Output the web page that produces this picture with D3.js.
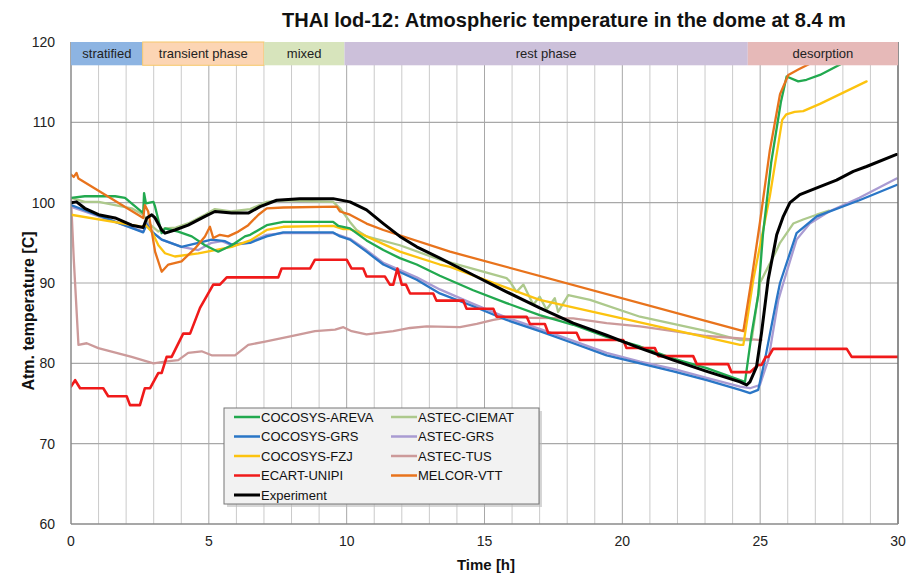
<!DOCTYPE html>
<html><head><meta charset="utf-8">
<script src="https://cdn.jsdelivr.net/npm/d3@7"></script>
<style>body{margin:0;background:#fff;font-family:"Liberation Sans",Arial,sans-serif}</style>
</head><body><svg id="c" width="909" height="577"></svg>
<script>
const xTicks=[0,5,10,15,20,25,30];
const yTicks=[60,70,80,90,100,110,120];
const phaseNames=["stratified","transient phase","mixed","rest phase","desorption"];
const phaseStart=[0,2.6,7,9.92,24.55];
const phaseEnd=[2.6,7,9.92,24.55,30];
const phaseColors=["#8db4e2","#fcd5b4","#d7e4bc","#ccc0da","#e6b9b8"];

const seriesNames=["COCOSYS-AREVA","COCOSYS-GRS","COCOSYS-FZJ","ECART-UNIPI","ASTEC-CIEMAT","ASTEC-GRS","ASTEC-TUS","MELCOR-VTT","Experiment"];
const seriesColors=["#22a94f","#2a76c6","#fcc30f","#f01a1a","#adc98c","#a99bd2","#cc9a9a","#e8731c","#000000"];

const cocosysAreva=[[0,100.6],[0.5,100.8],[1.6,100.8],[1.96,100.6],[2.62,98.7],[2.65,101.2],[2.72,99.9],[2.99,100.1],[3.05,99.5],[3.29,96.2],[3.41,96.8],[3.89,96.4],[4.38,95.8],[4.86,94.7],[5.1,94.3],[5.34,93.9],[5.83,94.7],[6.31,95.8],[6.5,96.0],[7.1,97.2],[7.7,97.6],[9.51,97.6],[9.7,97.1],[10.12,96.8],[10.72,95.3],[11.33,94.1],[11.93,93.1],[12.54,92.3],[13.38,90.9],[14.59,89.1],[15.8,87.5],[17.0,86.0],[18.22,84.8],[19.43,83.3],[20.64,82.1],[21.85,80.6],[23.06,79.4],[24.27,77.9],[24.45,77.7],[24.69,83.7],[24.93,88.5],[25.1,96],[25.4,105],[25.75,112.5],[25.96,115.7],[26.38,115.1],[26.68,115.3],[27.17,115.9],[27.9,117.2],[28.2,118]];
const cocosysGrs=[[0,99.7],[2.62,96.3],[2.75,97.3],[2.93,96.4],[3.29,95.4],[4.01,94.5],[4.62,95.0],[5.1,95.4],[5.59,95.2],[5.83,94.8],[6.5,95.0],[7.1,95.8],[7.7,96.3],[9.51,96.3],[9.76,95.8],[10.12,95.4],[10.72,93.9],[11.33,92.3],[12.54,90.4],[13.38,88.7],[14.59,87.1],[15.8,85.4],[17.0,84.0],[18.22,82.5],[19.43,81.0],[20.64,80.0],[21.85,79.0],[23.06,77.9],[24.27,76.7],[24.63,76.3],[24.93,76.7],[25.17,80.4],[25.6,88],[25.72,90],[26.32,96.2],[27.05,98.3],[28.6,100.3],[29.95,102.2]];
const cocosysFzj=[[0,98.5],[2.62,97.0],[2.68,97.3],[2.93,96.4],[3.17,94.7],[3.41,93.7],[3.77,93.3],[4.62,93.7],[5.83,94.5],[6.5,95.3],[7.1,96.6],[7.7,97.0],[9.51,97.1],[9.88,96.7],[10.12,96.7],[10.72,95.8],[11.93,93.9],[13.38,92.3],[13.75,92.0],[17.0,87.9],[24.27,82.3],[24.39,82.3],[24.75,90.4],[25.35,100.8],[25.8,110.3],[25.95,111.0],[26.25,111.3],[26.56,111.4],[27.17,112.3],[28.86,115.1]];
const ecartUnipi=[[0,77.1],[0.15,77.9],[0.33,76.9],[1.17,76.9],[1.35,75.9],[2.02,75.9],[2.14,74.8],[2.5,74.8],[2.68,76.9],[2.87,76.9],[3.17,78.8],[3.29,78.8],[3.47,80.8],[3.65,80.8],[4.07,83.7],[4.32,83.7],[4.68,86.9],[5.16,89.8],[5.4,89.8],[5.65,90.7],[7.52,90.7],[7.64,91.8],[8.67,91.8],[8.85,92.9],[10.0,92.9],[10.18,91.8],[10.6,91.8],[10.72,90.8],[11.39,90.8],[11.57,89.8],[11.69,89.8],[11.84,91.8],[12.0,89.8],[12.15,89.8],[12.3,88.7],[13.14,88.7],[13.26,87.8],[14.23,87.8],[14.35,86.8],[15.32,86.8],[15.44,85.8],[16.53,85.8],[16.65,84.9],[17.19,84.9],[17.31,83.8],[18.34,83.8],[18.46,82.9],[20.03,82.9],[20.15,81.9],[21.18,81.9],[21.3,80.9],[22.57,80.9],[22.7,79.9],[23.84,79.9],[23.96,78.9],[24.63,78.9],[24.93,79.8],[25.05,79.8],[25.2,80.8],[25.3,80.8],[25.47,81.8],[28.14,81.8],[28.32,80.8],[30,80.8]];
const astecCiemat=[[0,100.6],[0.5,100.1],[1.0,100.1],[1.6,99.7],[2.2,99.3],[2.62,98.5],[2.8,97.5],[3.17,96.4],[3.41,96.8],[3.8,96.9],[4.3,97.5],[4.86,98.5],[5.22,99.2],[5.8,98.9],[6.5,99.2],[7.1,100.1],[7.7,100.3],[9.51,100.1],[9.76,99.3],[10.12,97.6],[10.36,96.6],[10.72,95.8],[11.93,94.7],[13.38,92.9],[15.8,90.6],[15.92,90.2],[16.16,88.9],[16.41,89.8],[16.77,87.3],[17.0,88.3],[17.25,86.7],[17.55,88.1],[17.67,86.4],[18.04,88.5],[18.83,87.9],[20.64,85.8],[23.06,84.0],[24.27,82.9],[24.69,82.9],[24.99,90],[25.6,94.1],[25.72,95.0],[26.2,97.4],[26.56,97.9],[27.05,98.5],[27.5,99.0]];
const astecGrs=[[0,99.5],[2.62,96.4],[2.75,97.5],[2.93,96.4],[3.29,95.4],[4.01,94.5],[4.62,94.1],[5.1,95.0],[5.47,95.2],[5.83,94.7],[6.43,95.0],[7.1,96.0],[7.7,96.2],[9.51,96.2],[10.12,95.5],[10.72,94.1],[11.33,92.5],[12.54,90.7],[13.38,89.2],[14.59,87.4],[15.8,85.7],[17.0,84.3],[18.22,82.8],[19.43,81.3],[20.64,80.2],[21.85,79.3],[23.06,78.2],[24.27,77.1],[24.63,76.9],[24.99,77.3],[25.3,80.5],[25.66,87.9],[25.84,90],[26.32,95.4],[26.8,97.4],[27.5,98.9],[28.6,100.6],[29.95,103.0]];
const astecTus=[[0,100.5],[0.1,93],[0.27,82.3],[0.57,82.5],[0.99,81.9],[2.2,80.8],[2.99,80.0],[3.41,80.2],[3.89,80.4],[4.25,81.3],[4.74,81.5],[5.1,81.0],[5.95,81.0],[6.43,82.3],[7.04,82.7],[8.0,83.4],[8.85,84.0],[9.58,84.2],[9.88,84.5],[10.18,84.0],[10.72,83.6],[11.69,84.0],[12.3,84.4],[12.9,84.6],[14.11,84.5],[14.72,84.9],[15.32,85.4],[15.8,85.7],[18.22,85.6],[19.43,85.0],[20.64,84.6],[21.85,84.0],[23.06,83.4],[24.27,83.1],[25.05,82.9]];
const melcorVtt=[[0,103.5],[0.1,103.2],[0.2,103.7],[0.27,103.0],[2.62,98.1],[2.68,99.7],[2.8,98.9],[2.93,96.4],[3.05,93.9],[3.29,91.4],[3.53,92.3],[4.01,92.7],[4.5,94.3],[4.86,95.8],[5.04,97.0],[5.16,95.6],[5.4,96.0],[5.7,95.8],[6.07,96.4],[6.43,97.2],[6.8,98.5],[7.1,99.3],[7.7,99.4],[9.64,99.5],[9.76,98.9],[10.12,98.5],[10.72,97.4],[11.33,96.6],[13.75,93.9],[24.39,84.0],[24.69,90.5],[24.99,97.5],[25.35,106.5],[25.72,113.5],[26.02,115.9],[26.4,116.6],[26.8,117.3],[27.1,118.2]];
const experiment=[[0,100.0],[0.2,100.1],[0.5,99.3],[1.0,98.5],[1.6,98.1],[2.2,97.2],[2.62,96.9],[2.75,98.1],[2.93,98.5],[3.05,98.1],[3.29,96.6],[3.41,96.2],[3.77,96.6],[4.25,97.2],[4.86,98.3],[5.22,98.9],[5.83,98.7],[6.43,98.7],[6.86,99.5],[7.46,100.3],[8.3,100.5],[9.51,100.5],[10.12,100.1],[10.72,99.1],[11.33,97.4],[11.93,95.8],[12.54,94.5],[13.38,93.1],[14.59,91.0],[15.8,88.9],[17.0,86.9],[18.22,85.0],[19.43,83.5],[20.64,81.9],[21.85,80.4],[23.06,79.0],[24.27,77.7],[24.51,77.3],[24.63,77.7],[24.87,79.6],[25.05,83.8],[25.29,90.4],[25.6,96.0],[25.84,98.3],[26.08,100.0],[26.44,101.0],[27.17,102.0],[27.77,102.8],[28.38,103.9],[28.86,104.5],[29.95,106.0]];

const seriesData=[cocosysAreva,cocosysGrs,cocosysFzj,ecartUnipi,astecCiemat,astecGrs,astecTus,melcorVtt,experiment];
const drawOrder=[4,5,6,1,2,0,3,7,8];

const svg=d3.select("#c");
const L=71,R=898,T=42,B=524;
const x=d3.scaleLinear().domain([0,30]).range([L,R]);
const y=d3.scaleLinear().domain([60,120]).range([B,T]);

// grid
svg.append("g").selectAll("line").data(d3.range(1,30).filter(v=>v%5)).join("line")
  .attr("x1",d=>x(d)).attr("x2",d=>x(d)).attr("y1",T).attr("y2",B).attr("stroke","#cacaca").attr("stroke-width",1);
svg.append("g").selectAll("line").data([5,10,15,20,25]).join("line")
  .attr("x1",d=>x(d)).attr("x2",d=>x(d)).attr("y1",T).attr("y2",B).attr("stroke","#a8a8a8").attr("stroke-width",1);
svg.append("g").selectAll("line").data(yTicks.slice(1,-1)).join("line")
  .attr("x1",L).attr("x2",R).attr("y1",d=>y(d)).attr("y2",d=>y(d)).attr("stroke","#a8a8a8").attr("stroke-width",1.2);

// lines
svg.append("clipPath").attr("id","clip").append("rect").attr("x",L).attr("y",T).attr("width",R-L).attr("height",B-T);
const line=d3.line().x(d=>x(d[0])).y(d=>y(d[1]));
const gl=svg.append("g").attr("clip-path","url(#clip)");
drawOrder.forEach(i=>{
  gl.append("path").attr("d",line(seriesData[i])).attr("fill","none")
    .attr("stroke",seriesColors[i]).attr("stroke-width",i===8?3:(i===3?2.6:2.3))
    .attr("stroke-linejoin","round").attr("stroke-linecap","round");
});

// axes frame
svg.append("line").attr("x1",L).attr("x2",L).attr("y1",T).attr("y2",B).attr("stroke","#8a8a8a").attr("stroke-width",1.5);
svg.append("line").attr("x1",R).attr("x2",R).attr("y1",T).attr("y2",B).attr("stroke","#6a6a6a").attr("stroke-width",1.5);
svg.append("line").attr("x1",L).attr("x2",R).attr("y1",B).attr("y2",B).attr("stroke","#8a8a8a").attr("stroke-width",1.5);

// phase bar
const pb=svg.append("g");
const barH=y(117.1)-y(120);
pb.selectAll("rect").data(phaseNames).join("rect")
  .attr("x",(d,i)=>x(phaseStart[i])).attr("y",T).attr("width",(d,i)=>x(phaseEnd[i])-x(phaseStart[i])).attr("height",barH)
  .attr("fill",(d,i)=>phaseColors[i]).attr("stroke",(d,i)=>i===1?"#f6c86a":"none").attr("stroke-width",1);
pb.selectAll("text").data(phaseNames).join("text")
  .attr("x",(d,i)=>(x(phaseStart[i])+x(phaseEnd[i]))/2).attr("y",T+barH/2+4.5)
  .attr("text-anchor","middle").attr("font-size",13).attr("fill","#222").text(d=>d);

// ticks
svg.append("g").selectAll("text").data(yTicks).join("text")
  .attr("x",55).attr("y",d=>y(d)+5).attr("text-anchor","end").attr("font-size",14).attr("fill","#222").text(d=>d);
svg.append("g").selectAll("text").data(xTicks).join("text")
  .attr("x",d=>x(d)).attr("y",B+22).attr("text-anchor","middle").attr("font-size",14).attr("fill","#222").text(d=>d);

// titles
svg.append("text").attr("x",564).attr("y",27).attr("text-anchor","middle").attr("font-size",20).attr("font-weight","bold").attr("fill","#111")
  .text("THAI lod-12: Atmospheric temperature in the dome at 8.4 m");
svg.append("text").attr("x",486).attr("y",570).attr("text-anchor","middle").attr("font-size",15).attr("font-weight","bold").attr("fill","#111").text("Time [h]");
svg.append("text").attr("transform","translate(34,311) rotate(-90)").attr("text-anchor","middle").attr("font-size",16).attr("font-weight","bold").attr("fill","#111").text("Atm. temperature [C]");

// legend
const lg=svg.append("g");
lg.append("rect").attr("x",227).attr("y",411).attr("width",315).attr("height",96).attr("fill","#bbb").attr("opacity",0.6);
lg.append("rect").attr("x",224).attr("y",408).attr("width",315).attr("height",96).attr("fill","#f2f2f2").attr("stroke","#777").attr("stroke-width",1);
const legOrder=[0,4,1,5,2,6,3,7,8];
legOrder.forEach((si,k)=>{
  const col=k===8?0:k%2, row=k===8?4:Math.floor(k/2);
  const lx=col===0?234:391, ly=417+row*19.5;
  lg.append("line").attr("x1",lx).attr("x2",lx+26).attr("y1",ly).attr("y2",ly).attr("stroke",seriesColors[si]).attr("stroke-width",si===8?3:2.5);
  lg.append("text").attr("x",lx+27).attr("y",ly+4.5).attr("font-size",13).attr("fill","#111").text(seriesNames[si]);
});
</script></body></html>
